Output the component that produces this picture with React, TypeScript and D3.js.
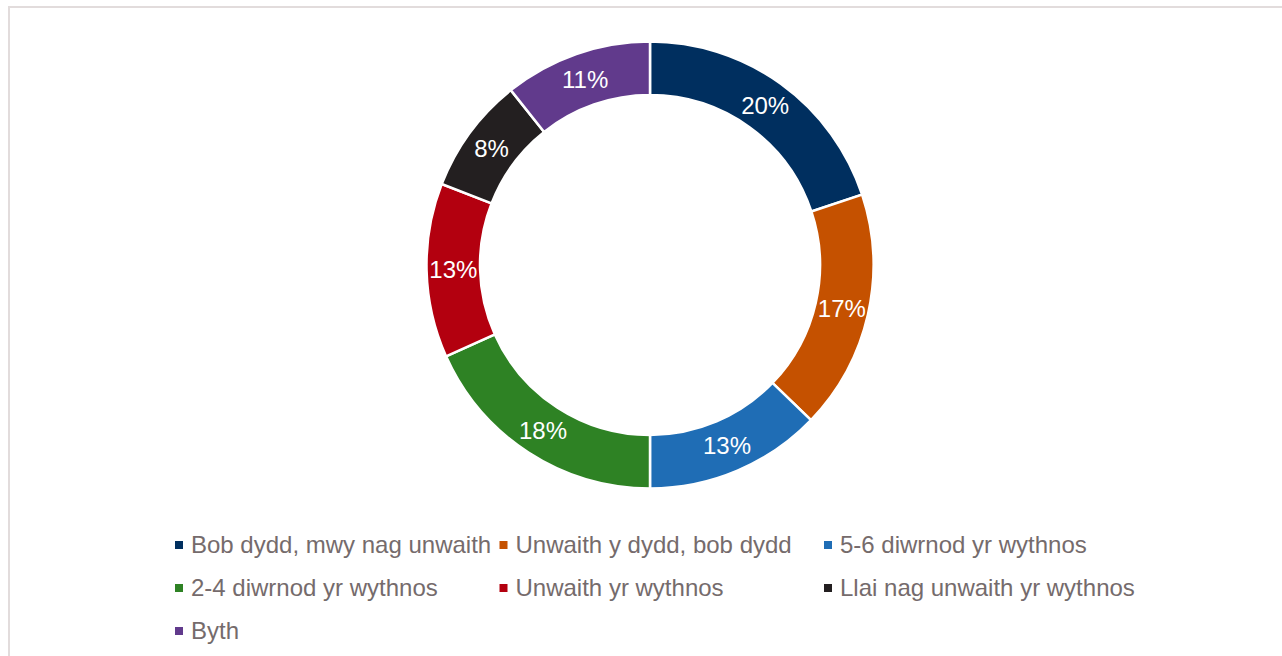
import React, { useRef, useEffect } from "react";
import * as d3 from "d3";

const categories = [
  "Bob dydd, mwy nag unwaith",
  "Unwaith y dydd, bob dydd",
  "5-6 diwrnod yr wythnos",
  "2-4 diwrnod yr wythnos",
  "Unwaith yr wythnos",
  "Llai nag unwaith yr wythnos",
  "Byth",
];
const values = [19.9, 17.3, 12.8, 18.3, 12.6, 8.4, 10.7];
const colors = ["#002f5f", "#c55100", "#1f6db5", "#2e8224", "#b3000f", "#231f20", "#613a8c"];

function App() {
  const svgRef = useRef<SVGSVGElement>(null);

  useEffect(() => {
    const svg = d3.select(svgRef.current);
    svg.selectAll("*").remove();

    const width = 1282;
    const height = 656;
    const cx = 650;
    const cy = 265;
    const outer = 223.5;
    const inner = 170;
    const font = "'Liberation Sans', Arial, sans-serif";

    // chart frame
    svg
      .append("rect")
      .attr("x", 9)
      .attr("y", 7)
      .attr("width", width)
      .attr("height", height)
      .style("fill", "white")
      .style("stroke", "#e2dcdc")
      .style("stroke-width", 2);

    const data = categories.map((c, i) => ({ name: c, value: values[i], color: colors[i] }));
    const pie = d3.pie<any>().value((d) => d.value).sort(null);
    const arcs = pie(data);
    const arc = d3.arc<any>().innerRadius(inner).outerRadius(outer);

    const g = svg.append("g").attr("transform", `translate(${cx},${cy})`);

    g.selectAll("path")
      .data(arcs)
      .enter()
      .append("path")
      .attr("d", arc)
      .style("fill", (d) => d.data.color)
      .style("stroke", "white")
      .style("stroke-width", 2.5);

    g.selectAll("text")
      .data(arcs)
      .enter()
      .append("text")
      .attr("transform", (d) => `translate(${arc.centroid(d)})`)
      .attr("text-anchor", "middle")
      .attr("dy", "0.35em")
      .style("font-family", font)
      .style("font-size", "24px")
      .style("fill", "white")
      .text((d) => `${Math.round(d.data.value)}%`);

    // legend, three columns
    const colX = [175, 499.5, 824];
    const rowY = [545, 588, 631];
    const item = svg
      .append("g")
      .selectAll("g")
      .data(data)
      .enter()
      .append("g")
      .attr("transform", (_, i) => `translate(${colX[i % 3]},${rowY[Math.floor(i / 3)]})`);

    item
      .append("rect")
      .attr("x", 0)
      .attr("y", -4)
      .attr("width", 8)
      .attr("height", 8)
      .style("fill", (d) => d.color);

    item
      .append("text")
      .attr("x", 16)
      .attr("dy", "0.35em")
      .style("font-family", font)
      .style("font-size", "24px")
      .style("fill", "#756b6c")
      .text((d) => d.name);
  }, []);

  return (
    <svg
      ref={svgRef}
      width={1282}
      height={656}
      style={{ position: "absolute", left: 0, top: 0 }}
    />
  );
}

export default App;
